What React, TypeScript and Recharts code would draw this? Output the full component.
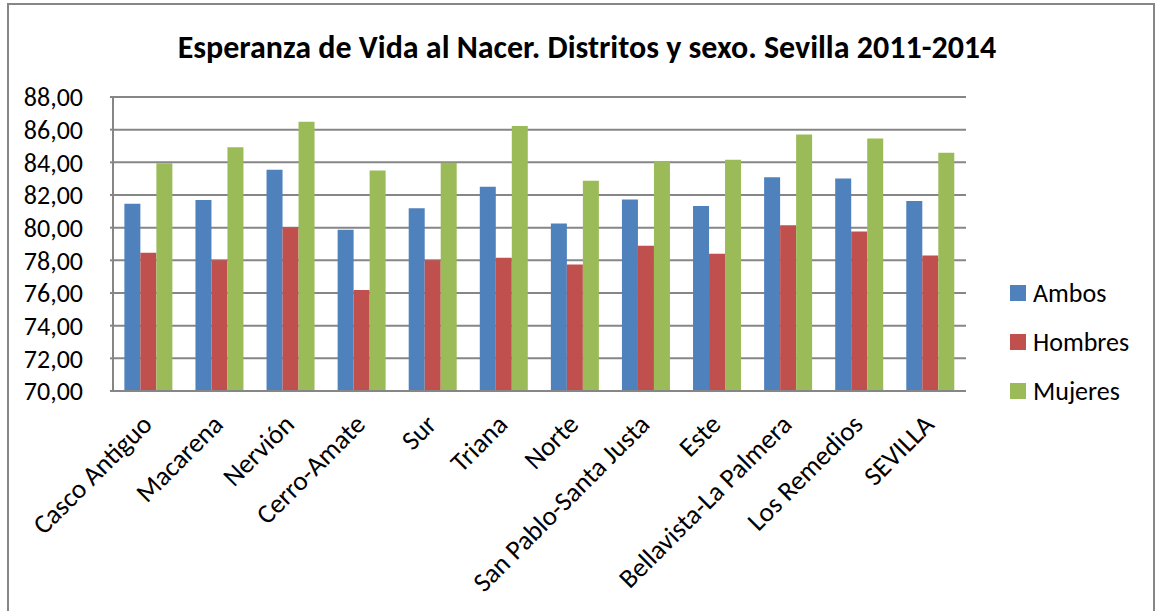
import React from 'react';
import { BarChart, Bar, XAxis, YAxis, CartesianGrid } from 'recharts';

const districts = ['Casco Antiguo', 'Macarena', 'Nervión', 'Cerro-Amate', 'Sur', 'Triana', 'Norte', 'San Pablo-Santa Justa', 'Este', 'Bellavista-La Palmera', 'Los Remedios', 'SEVILLA'];
const ambos = [81.46, 81.70, 83.54, 79.88, 81.19, 82.50, 80.25, 81.72, 81.33, 83.09, 83.01, 81.64];
const hombres = [78.47, 78.00, 80.02, 76.18, 78.00, 78.16, 77.75, 78.90, 78.41, 80.15, 79.76, 78.29];
const mujeres = [83.95, 84.93, 86.49, 83.50, 83.97, 86.22, 82.87, 84.03, 84.16, 85.71, 85.46, 84.58];
const yTicks = [70, 72, 74, 76, 78, 80, 82, 84, 86, 88];

const series = [
  { key: 'Ambos', color: '#4F81BD' },
  { key: 'Hombres', color: '#C0504D' },
  { key: 'Mujeres', color: '#9BBB59' },
];

const data = districts.map((d, i) => ({ name: d, Ambos: ambos[i], Hombres: hombres[i], Mujeres: mujeres[i] }));

const font = 'Carlito, Calibri, Lato, "Open Sans", sans-serif';

const fmt = (v: number) => v.toFixed(2).replace('.', ',');

function XTick(props: any) {
  const { x, y, payload } = props;
  return (
    <g transform={`translate(${x - 2},${y + 20})`}>
      <text textAnchor="end" transform="rotate(-45)" fontSize={27} fill="#000" fontFamily={font} dy={10}>
        {payload.value}
      </text>
    </g>
  );
}

export default function App() {
  return (
    <div style={{ position: 'absolute', left: 0, top: 0, width: 1158, height: 611, background: '#fff' }}>
      <div style={{ position: 'absolute', left: 7, top: 3, width: 1148, height: 608, borderLeft: '2px solid #868686', borderTop: '2px solid #868686', borderRight: '2px solid #868686', boxSizing: 'border-box' }} />
      <div style={{ position: 'absolute', left: 0, top: 28, width: 1174, textAlign: 'center', fontFamily: font, fontWeight: 'bold', fontSize: 32, color: '#000' }}>
        Esperanza de Vida al Nacer. Distritos y sexo. Sevilla 2011-2014
      </div>
      <BarChart
        width={1158}
        height={611}
        data={data}
        margin={{ top: 97, right: 192, bottom: 0, left: 20 }}
        barCategoryGap="16%"
        barGap={0}
        style={{ position: 'absolute', left: 0, top: 0 }}
      >
        <CartesianGrid vertical={false} stroke="#868686" strokeWidth={2} />
        <XAxis
          dataKey="name"
          interval={0}
          tick={<XTick />}
          tickLine={false}
          axisLine={{ stroke: '#868686', strokeWidth: 2 }}
          height={220}
        />
        <YAxis
          domain={[70, 88]}
          ticks={yTicks}
          interval={0}
          tickFormatter={fmt}
          width={93}
          tick={{ fontSize: 26, fill: '#000', fontFamily: font }}
          tickLine={{ stroke: '#868686', strokeWidth: 2 }}
          tickSize={3}
          tickMargin={27}
          axisLine={{ stroke: '#868686', strokeWidth: 2 }}
          allowDataOverflow
        />
        {series.map((s) => (
          <Bar key={s.key} dataKey={s.key} fill={s.color} isAnimationActive={false} />
        ))}
      </BarChart>
      <div style={{ position: 'absolute', left: 1010, top: 268, fontFamily: font, fontSize: 26, color: '#000' }}>
        {series.map((s) => (
          <div key={s.key} style={{ display: 'flex', alignItems: 'center', height: 49 }}>
            <span style={{ width: 16, height: 16, background: s.color, display: 'inline-block', marginRight: 7 }} />
            <span>{s.key}</span>
          </div>
        ))}
      </div>
    </div>
  );
}
